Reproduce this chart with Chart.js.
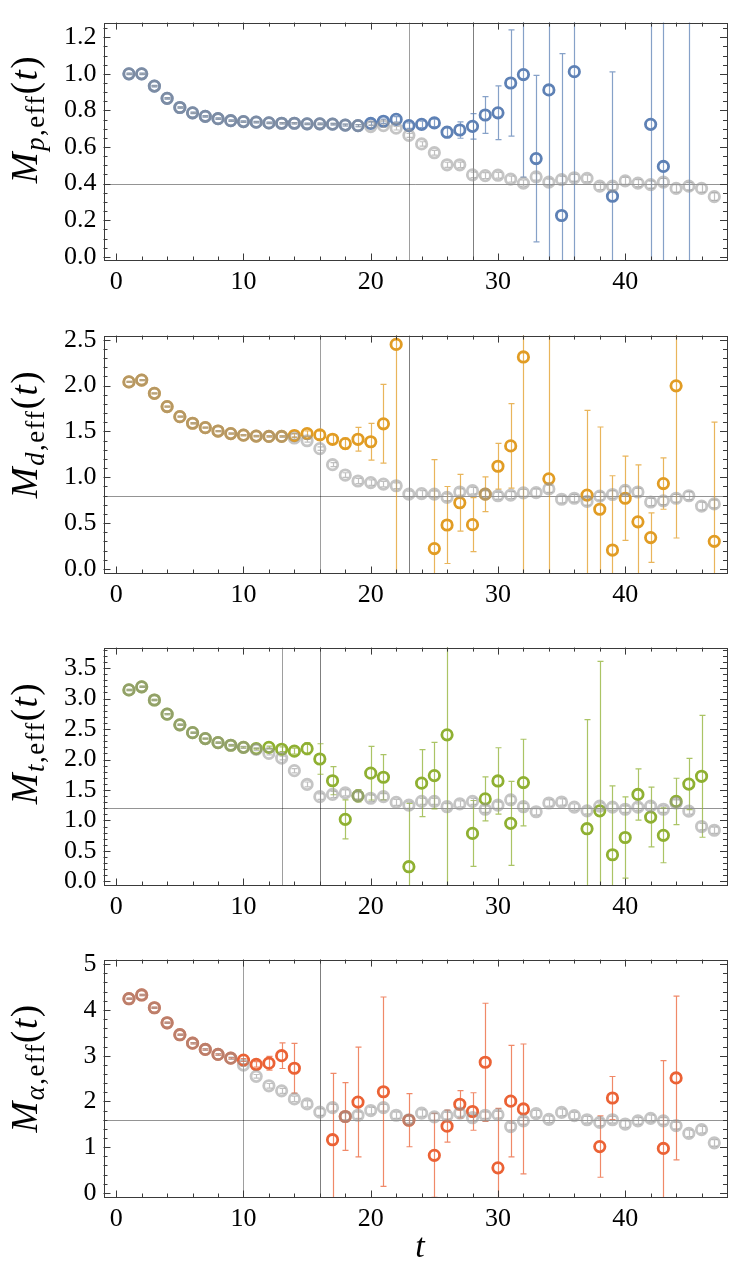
<!DOCTYPE html>
<html>
<head>
<meta charset="utf-8">
<script src="https://cdn.jsdelivr.net/npm/chart.js@4.4.1/dist/chart.umd.min.js"></script>
<style>
  body { margin: 0; background: #fff; }
  #wrap { position: relative; width: 735px; height: 1283px; overflow: hidden; }
  #wrap canvas { position: absolute; left: 0; }
  .ylab {
    position: absolute; white-space: nowrap; letter-spacing: 1.5px;
    font-family: "Liberation Serif", "Times New Roman", "DejaVu Serif", serif; font-size: 37px; color: #000;
    transform: translate(-50%, -50%) rotate(-90deg);
  }
  .ylab sub { font-size: 72%; vertical-align: -0.3em; }
  .xlab { position: absolute; font-family: "Liberation Serif", "Times New Roman", "DejaVu Serif", serif;
    font-size: 34px; font-style: italic; transform: translate(-50%, -50%); }
</style>
</head>
<body>
<div id="wrap">
  <canvas id="c1" width="735" height="312"></canvas>
  <canvas id="c2" width="735" height="312"></canvas>
  <canvas id="c3" width="735" height="312"></canvas>
  <canvas id="c4" width="735" height="312"></canvas>
  <div class="ylab" style="left:27px;top:119px"><i>M</i><sub><i>p</i>,eff</sub>(<i>t</i>)</div>
  <div class="ylab" style="left:27px;top:434px"><i>M</i><sub><i>d</i>,eff</sub>(<i>t</i>)</div>
  <div class="ylab" style="left:27px;top:743px"><i>M</i><sub><i>t</i>,eff</sub>(<i>t</i>)</div>
  <div class="ylab" style="left:27px;top:1068px"><i>M</i><sub><i>α</i>,eff</sub>(<i>t</i>)</div>
  <div class="xlab" style="left:420px;top:1246px">t</div>
</div>
<script>
// time slices
const tVals = [1,2,3,4,5,6,7,8,9,10,11,12,13,14,15,16,17,18,19,20,21,22,23,24,25,26,27,28,29,30,
  31,32,33,34,35,36,37,38,39,40,41,42,43,44,45,46,47];
const xTicks = [0, 10, 20, 30, 40];

// panel 1: M_p,eff
const pGray = [1.00,1.00,0.933,0.866,0.816,0.787,0.768,0.755,0.744,0.739,0.736,0.732,0.730,0.730,0.727,0.727,0.725,0.720,0.717,
  0.712,0.717,0.703,0.664,0.617,0.569,0.503,0.503,0.448,0.444,0.446,0.425,0.403,0.437,0.408,0.422,0.432,0.429,0.386,0.386,
  0.415,0.403,0.395,0.408,0.374,0.386,0.374,0.329];
const pGrayErr = [0.003,0.003,0.003,0.003,0.003,0.003,0.003,0.003,0.003,0.003,0.003,0.003,0.003,0.003,0.003,0.004,0.004,0.005,0.006,
  0.008,0.009,0.01,0.011,0.012,0.013,0.014,0.015,0.015,0.016,0.016,0.016,0.017,0.017,0.017,0.018,0.018,0.018,0.018,0.019,
  0.019,0.019,0.019,0.02,0.02,0.02,0.02,0.02];
const pVal = [1.00,1.00,0.933,0.866,0.816,0.787,0.768,0.755,0.744,0.739,0.736,0.732,0.730,0.730,0.727,0.727,0.725,0.720,0.717,
  0.729,0.741,0.751,0.717,0.724,0.732,0.681,0.693,0.713,0.775,0.787,0.950,0.996,0.537,0.912,0.226,1.012,null,null,0.331,
  null,null,0.724,0.494,null,1.45,null,null];
const pErr = [0.004,0.004,0.004,0.004,0.004,0.004,0.004,0.004,0.004,0.004,0.004,0.004,0.004,0.004,0.004,0.004,0.004,0.005,0.006,
  0.01,0.012,0.015,0.015,0.018,0.02,0.03,0.045,0.07,0.10,0.147,0.29,0.56,0.455,1.0,0.885,1.2,null,null,0.68,
  null,null,1.0,0.9,null,1.6,null,null];
const pTicks = [0, 0.2, 0.4, 0.6, 0.8, 1.0, 1.2];
const pTickLabels = ['0.0', '0.2', '0.4', '0.6', '0.8', '1.0', '1.2'];

// panel 2: M_d,eff
const dGray = [2.04,2.06,1.915,1.771,1.661,1.589,1.541,1.504,1.476,1.459,1.449,1.445,1.445,1.428,1.398,1.312,1.137,1.024,0.959,
  0.942,0.925,0.907,0.815,0.822,0.815,0.781,0.839,0.853,0.815,0.798,0.805,0.829,0.832,0.873,0.760,0.771,0.736,0.794,0.812,
  0.856,0.839,0.730,0.743,0.771,0.798,0.685,0.709];
const dGrayErr = [0.006,0.006,0.006,0.006,0.006,0.006,0.006,0.006,0.007,0.007,0.008,0.009,0.01,0.012,0.015,0.02,0.022,0.025,0.028,
  0.03,0.03,0.032,0.032,0.033,0.034,0.035,0.035,0.035,0.036,0.036,0.037,0.037,0.038,0.038,0.038,0.039,0.039,0.04,0.04,
  0.04,0.04,0.04,0.041,0.041,0.042,0.042,0.042];
const dVal = [2.04,2.06,1.915,1.771,1.661,1.589,1.541,1.504,1.476,1.459,1.449,1.445,1.445,1.455,1.476,1.462,1.414,1.367,1.414,
  1.387,1.583,2.449,null,null,0.222,0.479,0.722,0.483,0.815,1.120,1.342,2.312,null,0.983,null,null,0.805,0.651,0.206,
  0.771,0.514,0.342,0.931,1.997,null,null,0.301];
const dErr = [0.006,0.006,0.006,0.006,0.006,0.006,0.006,0.006,0.006,0.006,0.006,0.006,0.006,0.02,0.03,0.04,0.05,0.06,0.13,
  0.2,0.43,2.6,null,null,0.97,0.42,0.31,0.295,0.19,0.25,0.46,2.5,null,1.6,null,null,0.925,0.897,0.81,
  0.46,0.62,0.27,0.28,1.66,null,null,1.3];
const dTicks = [0, 0.5, 1.0, 1.5, 2.0, 2.5];
const dTickLabels = ['0.0', '0.5', '1.0', '1.5', '2.0', '2.5'];

// panel 3: M_t,eff
const tGray = [3.141,3.192,2.976,2.744,2.569,2.440,2.343,2.276,2.234,2.199,2.165,2.100,2.023,1.817,1.591,1.390,1.427,1.452,1.405,
  1.365,1.390,1.297,1.251,1.313,1.313,1.226,1.272,1.313,1.184,1.251,1.339,1.226,1.143,1.287,1.303,1.220,1.158,1.235,1.220,
  1.184,1.220,1.235,1.184,1.287,1.153,0.901,0.840];
const tGrayErr = [0.01,0.01,0.01,0.01,0.01,0.01,0.01,0.012,0.014,0.016,0.02,0.025,0.03,0.035,0.04,0.045,0.05,0.05,0.05,
  0.05,0.05,0.05,0.05,0.05,0.05,0.05,0.05,0.05,0.05,0.05,0.05,0.05,0.05,0.05,0.05,0.05,0.05,0.05,0.05,
  0.05,0.05,0.05,0.05,0.05,0.05,0.05,0.05];
const tVal = [3.141,3.192,2.976,2.744,2.569,2.440,2.343,2.276,2.234,2.199,2.178,2.199,2.168,2.137,2.178,2.008,1.652,1.019,1.405,
  1.776,1.709,null,0.242,1.612,1.736,2.404,null,0.788,1.354,1.648,0.953,1.622,null,null,null,null,0.865,1.158,0.438,
  0.721,1.427,1.056,0.757,1.313,1.597,1.725,null];
const tErr = [0.01,0.01,0.01,0.01,0.01,0.01,0.01,0.01,0.01,0.01,0.01,0.02,0.04,0.05,0.1,0.25,0.23,0.32,0.1,
  0.44,0.37,null,1.04,0.55,0.545,2.6,null,0.54,0.36,0.545,0.69,0.71,null,null,null,null,1.79,2.45,1.13,
  0.665,0.42,0.49,0.45,0.38,0.42,1.0,null];
const tTicks = [0, 0.5, 1.0, 1.5, 2.0, 2.5, 3.0, 3.5];
const tTickLabels = ['0.0', '0.5', '1.0', '1.5', '2.0', '2.5', '3.0', '3.5'];

// panel 4: M_alpha,eff
const aGray = [4.245,4.327,4.047,3.719,3.458,3.273,3.136,3.027,2.945,2.794,2.548,2.342,2.232,2.055,1.945,1.767,1.863,1.671,1.698,
  1.801,1.863,1.698,1.600,1.746,1.664,1.690,1.746,1.644,1.698,1.710,1.451,1.575,1.732,1.609,1.760,1.690,1.600,1.541,1.600,
  1.506,1.575,1.630,1.575,1.472,1.301,1.383,1.095];
const aGrayErr = [0.015,0.015,0.015,0.015,0.015,0.015,0.02,0.02,0.025,0.03,0.04,0.05,0.055,0.06,0.065,0.07,0.07,0.07,0.07,
  0.07,0.07,0.07,0.07,0.07,0.07,0.07,0.07,0.07,0.07,0.07,0.07,0.07,0.07,0.07,0.07,0.07,0.07,0.07,0.07,
  0.07,0.07,0.07,0.07,0.07,0.07,0.07,0.07];
const aVal = [4.245,4.327,4.047,3.719,3.458,3.273,3.136,3.027,2.945,2.904,2.808,2.836,3.000,2.725,null,null,1.163,1.671,1.986,
  null,2.212,null,1.589,null,0.822,1.459,1.938,1.780,2.856,0.548,2.006,1.835,null,null,null,null,null,1.013,2.075,
  null,null,null,0.972,2.513,null,null,null];
const aErr = [0.015,0.015,0.015,0.015,0.015,0.015,0.015,0.015,0.015,0.03,0.06,0.15,0.28,0.545,null,null,1.45,0.74,1.2,
  null,2.07,null,0.58,null,0.92,0.35,0.3,0.41,1.29,1.3,1.22,1.42,null,null,null,null,null,0.67,0.47,
  null,null,null,1.92,1.79,null,null,null];
const aTicks = [0, 1, 2, 3, 4, 5];
const aTickLabels = ['0', '1', '2', '3', '4', '5'];

const panels = [
  { id: 'c1', top: 0,   gray: pGray, grayErr: pGrayErr, val: pVal, err: pErr, color: '94,129,181',
    ymin: -0.02, ymax: 1.28, ticks: pTicks, labels: pTickLabels, minor: 0.05, vlines: [23, 28], hline: 0.4 },
  { id: 'c2', top: 313, gray: dGray, grayErr: dGrayErr, val: dVal, err: dErr, color: '225,156,36',
    ymin: -0.05, ymax: 2.545, ticks: dTicks, labels: dTickLabels, minor: 0.1, vlines: [16, 23], hline: 0.8 },
  { id: 'c3', top: 625, gray: tGray, grayErr: tGrayErr, val: tVal, err: tErr, color: '143,176,50',
    ymin: -0.066, ymax: 3.835, ticks: tTicks, labels: tTickLabels, minor: 0.1, vlines: [13, 16], hline: 1.2 },
  { id: 'c4', top: 937, gray: aGray, grayErr: aGrayErr, val: aVal, err: aErr, color: '235,98,53',
    ymin: -0.1, ymax: 5.1, ticks: aTicks, labels: aTickLabels, minor: 0.2, vlines: [10, 16], hline: 1.6 }
];

// reference lines below the points
const refLines = {
  id: 'refLines',
  beforeDatasetsDraw(chart, args, opts) {
    const { ctx, chartArea: a, scales: { x, y } } = chart;
    ctx.save();
    ctx.lineWidth = 1;
    opts.vlines.forEach((v, i) => {
      const px = Math.round(x.getPixelForValue(v)) + 0.5;
      ctx.strokeStyle = i === 0 ? 'rgba(0,0,0,0.38)' : 'rgba(0,0,0,0.5)';
      ctx.beginPath(); ctx.moveTo(px, a.top); ctx.lineTo(px, a.bottom); ctx.stroke();
    });
    const py = Math.round(y.getPixelForValue(opts.hline)) + 0.5;
    ctx.strokeStyle = 'rgba(0,0,0,0.42)';
    ctx.beginPath(); ctx.moveTo(a.left, py); ctx.lineTo(a.right, py); ctx.stroke();
    ctx.restore();
  }
};

// error bars, drawn right after each dataset so the gray set stays on top
const errorBars = {
  id: 'errorBars',
  afterDatasetDraw(chart, args) {
    const ds = chart.data.datasets[args.index];
    const { ctx, chartArea: a, scales: { y } } = chart;
    ctx.save();
    ctx.beginPath(); ctx.rect(a.left, a.top, a.right - a.left, a.bottom - a.top); ctx.clip();
    ctx.strokeStyle = ds.errColor;
    ctx.lineWidth = 1.2;
    args.meta.data.forEach((el, i) => {
      const v = ds.data[i].y, e = ds.errors[i];
      if (v == null || e == null || el.skip) return;
      const x = Math.round(el.x) + 0.5;
      const y1 = y.getPixelForValue(v + e), y2 = y.getPixelForValue(v - e);
      ctx.beginPath();
      ctx.moveTo(x, y1); ctx.lineTo(x, y2);
      ctx.moveTo(x - 3, y1); ctx.lineTo(x + 3, y1);
      ctx.moveTo(x - 3, y2); ctx.lineTo(x + 3, y2);
      ctx.stroke();
    });
    ctx.restore();
  }
};

// frame with inward ticks on all four sides
const frame = {
  id: 'frame',
  afterDraw(chart, args, opts) {
    const { ctx, chartArea: a, scales: { x, y } } = chart;
    ctx.save();
    ctx.strokeStyle = '#3a3a3a';
    ctx.lineWidth = 1;
    ctx.strokeRect(Math.round(a.left) + 0.5, Math.round(a.top) + 0.5,
      Math.round(a.right - a.left) - 1, Math.round(a.bottom - a.top) - 1);
    ctx.beginPath();
    for (let v = 0; v <= 47; v += 2) {
      const len = v % 10 === 0 ? 7 : 4;
      const px = Math.round(x.getPixelForValue(v)) + 0.5;
      ctx.moveTo(px, a.bottom); ctx.lineTo(px, a.bottom - len);
      ctx.moveTo(px, a.top); ctx.lineTo(px, a.top + len);
    }
    const n = Math.floor((y.max) / opts.minor + 1e-6);
    for (let k = 0; k <= n; k++) {
      const v = k * opts.minor;
      const major = opts.ticks.some(t => Math.abs(t - v) < 1e-6);
      const len = major ? 7 : 4;
      const py = Math.round(y.getPixelForValue(v)) + 0.5;
      ctx.moveTo(a.left, py); ctx.lineTo(a.left + len, py);
      ctx.moveTo(a.right, py); ctx.lineTo(a.right - len, py);
    }
    ctx.stroke();
    ctx.restore();
  }
};

const tickFont = { family: '"Liberation Serif", "Times New Roman", "DejaVu Serif", serif', size: 26 };

panels.forEach(p => {
  const canvas = document.getElementById(p.id);
  canvas.style.top = p.top + 'px';
  new Chart(canvas, {
    type: 'scatter',
    data: {
      datasets: [
        {
          label: 'gray',
          data: tVals.map((t, i) => ({ x: t, y: p.gray[i] })),
          errors: p.grayErr,
          errColor: 'rgba(150,150,150,0.6)',
          pointRadius: 5.2,
          pointBorderWidth: 2.8,
          pointBackgroundColor: 'rgba(0,0,0,0)',
          pointBorderColor: 'rgba(150,150,150,0.55)'
        },
        {
          label: 'series',
          data: tVals.map((t, i) => ({ x: t, y: p.val[i] })),
          errors: p.err,
          errColor: 'rgba(' + p.color + ',0.75)',
          pointRadius: 5.2,
          pointBorderWidth: 2.8,
          pointBackgroundColor: 'rgba(0,0,0,0)',
          pointBorderColor: 'rgb(' + p.color + ')'
        }
      ]
    },
    options: {
      responsive: false,
      animation: false,
      events: [],
      layout: { padding: { top: 8, right: 1, left: 0, bottom: 0 } },
      plugins: {
        legend: { display: false },
        tooltip: { enabled: false },
        refLines: { vlines: p.vlines, hline: p.hline },
        frame: { minor: p.minor, ticks: p.ticks }
      },
      scales: {
        x: {
          type: 'linear', min: -1, max: 48,
          grid: { display: false, drawTicks: false },
          border: { display: false },
          afterBuildTicks: s => { s.ticks = xTicks.map(v => ({ value: v })); },
          afterFit: s => { s.height = 51.5; },
          ticks: { color: '#000', font: tickFont, padding: 6, maxRotation: 0, autoSkip: false }
        },
        y: {
          type: 'linear', min: p.ymin, max: p.ymax,
          grid: { display: false, drawTicks: false },
          border: { display: false },
          afterBuildTicks: s => { s.ticks = p.ticks.map(v => ({ value: v })); },
          afterFit: s => { s.width = 103.5; },
          ticks: { color: '#000', font: tickFont, padding: 7, autoSkip: false,
            callback: (v, i) => p.labels[i] }
        }
      }
    },
    plugins: [refLines, errorBars, frame]
  });
});
</script>
</body>
</html>
